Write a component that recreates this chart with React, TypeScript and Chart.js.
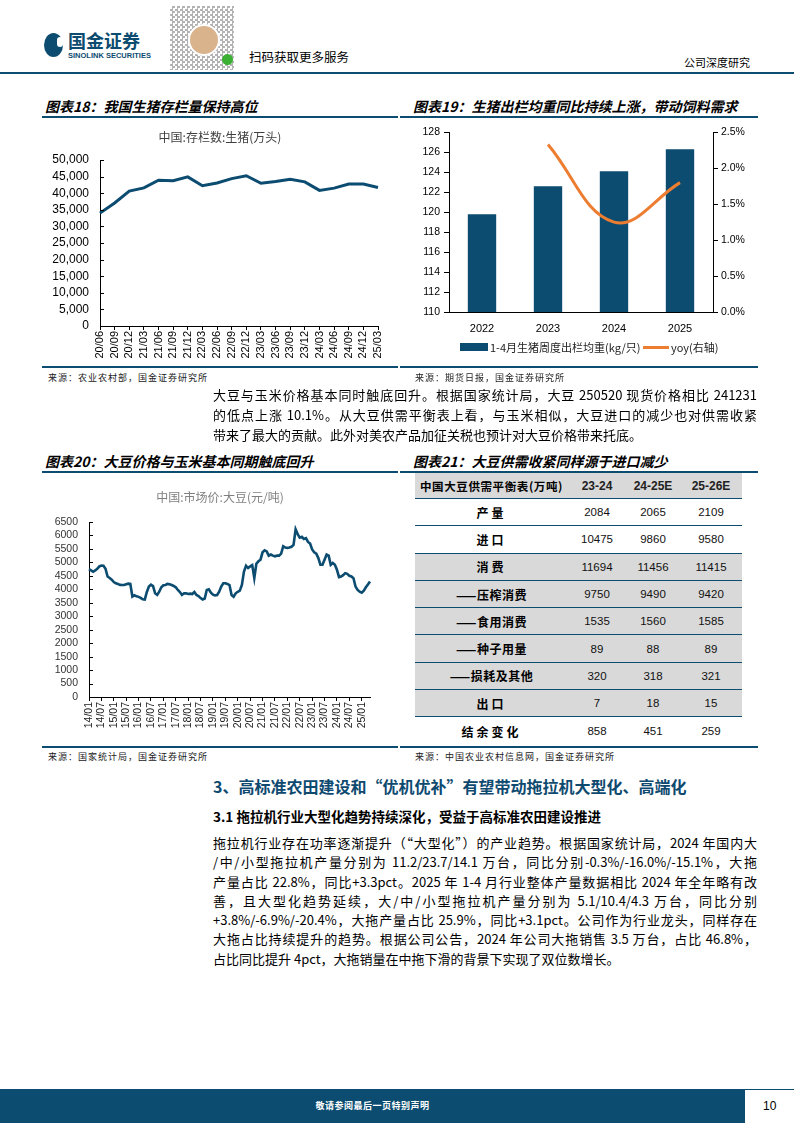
import React, { useEffect, useRef } from 'react';
import { Chart, registerables } from 'chart.js';

Chart.register(...registerables);

const TEAL = '#0B4C70';
const ORANGE = '#ED7D31';
const SANS = "'Liberation Sans', Arial, sans-serif";
const CJK = "'Noto Sans CJK SC', 'Liberation Sans', sans-serif";

Chart.defaults.font.family = SANS;
Chart.defaults.color = '#000';

// ---------- 图表18 ----------
const pigLabels = ['20/06', '20/09', '20/12', '21/03', '21/06', '21/09', '21/12', '22/03', '22/06', '22/09',
  '22/12', '23/03', '23/06', '23/09', '23/12', '24/03', '24/06', '24/09', '24/12', '25/03'];
const pigStock = [33996, 37039, 40650, 41595, 43911, 43764, 44922, 42253, 43057, 44394,
  45256, 42994, 43517, 44229, 43422, 40850, 41533, 42741, 42743, 41731];

// ---------- 图表19 ----------
const weightYears = ['2022', '2023', '2024', '2025'];
const pigWeight = [119.8, 122.6, 124.1, 126.3];
const weightYoy = [null, 0.0233, 0.0125, 0.018];

// ---------- 图表20 ----------
const soyStartYear = 2014;
const soyTickLabels = ['14/01', '14/07', '15/01', '15/07', '16/01', '16/07', '17/01', '17/07', '18/01', '18/07',
  '19/01', '19/07', '20/01', '20/07', '21/01', '21/07', '22/01', '22/07', '23/01', '23/07', '24/01', '24/07', '25/01'];
const soyPrice = [
  4750, 4700, 4650, 4700, 4760, 4850, 4880, 4875, 4760, 4475, 4420, 4360,
  4270, 4225, 4200, 4165, 4160, 4160, 4185, 4210, 4200, 3730, 3780, 3740,
  3720, 3680, 3630, 3620, 3900, 4100, 4170, 4120, 3850, 3790, 3910, 4075,
  4150, 4160, 4200, 4190, 4160, 4125, 4075, 3975, 3900, 3790, 3850, 3850,
  3825, 3840, 3825, 3900, 3790, 3750, 3675, 3625, 3660, 3975, 4000, 3875,
  3800, 3775, 3790, 3910, 4100, 4225, 4225, 4200, 4160, 3790, 3725, 3850,
  3910, 3950, 4160, 4660, 4875, 4790, 4850, 4900, 4420, 4950, 5040, 5100,
  5375, 5450, 5410, 5250, 5290, 5250, 5225, 5250, 5250, 5325, 5600, 5550,
  5540, 5550, 5580, 5650, 6230, 6050, 5920, 5950, 5870, 5900, 5760, 5700,
  5480, 5375, 5325, 5160, 4910, 4910, 5100, 5290, 5250, 4910, 4975, 4910,
  4725, 4450, 4475, 4525, 4600, 4575, 4500, 4475, 4410, 4100, 3975, 3910,
  3875, 3950, 4075, 4180, 4290
];
const soyMonths = soyPrice.map((_, i) => {
  const y = soyStartYear + Math.floor(i / 12);
  const m = (i % 12) + 1;
  return `${String(y).slice(2)}/${String(m).padStart(2, '0')}`;
});

// ---------- 图表21 ----------
const tableHead = '中国大豆供需平衡表(万吨)';
const tableCols = ['23-24', '24-25E', '25-26E'];
const tableRows = ['产量', '进口', '消费', '——压榨消费', '——食用消费', '——种子用量', '——损耗及其他', '出口', '结余变化'];
const tableValues = [
  [2084, 2065, 2109],
  [10475, 9860, 9580],
  [11694, 11456, 11415],
  [9750, 9490, 9420],
  [1535, 1560, 1585],
  [89, 88, 89],
  [320, 318, 321],
  [7, 18, 15],
  [858, 451, 259],
];
const tableGray = [false, false, true, true, true, true, true, true, false];

// ---------- plugins ----------
const subtitlePlugin = (text: string, y: number, color: string) => ({
  id: 'subtitle',
  afterDraw(chart: any) {
    const ctx = chart.ctx;
    ctx.save();
    ctx.font = `12px ${CJK}`;
    ctx.fillStyle = color;
    ctx.textAlign = 'center';
    ctx.textBaseline = 'middle';
    ctx.fillText(text, chart.width / 2, y);
    ctx.restore();
  },
});

const inwardYTicks = {
  id: 'inwardY',
  afterDraw(chart: any) {
    const s = chart.scales.y;
    const ctx = chart.ctx;
    ctx.save();
    ctx.strokeStyle = '#000';
    ctx.lineWidth = 1;
    s.ticks.forEach((t: any) => {
      const y = Math.round(s.getPixelForValue(t.value)) + 0.5;
      ctx.beginPath();
      ctx.moveTo(s.right, y);
      ctx.lineTo(s.right + 4, y);
      ctx.stroke();
    });
    ctx.restore();
  },
};

function ChartBox({ make, left, top, width, height }: any) {
  const ref = useRef<HTMLCanvasElement>(null);
  useEffect(() => {
    const chart = new Chart(ref.current as HTMLCanvasElement, make());
    return () => chart.destroy();
  }, []);
  return (
    <canvas
      ref={ref}
      width={width}
      height={height}
      style={{ position: 'absolute', left, top, width, height }}
    />
  );
}

const pigConfig = (): any => ({
  type: 'line',
  data: {
    labels: pigLabels,
    datasets: [{ data: pigStock, borderColor: TEAL, borderWidth: 3, pointRadius: 0, tension: 0, fill: false }],
  },
  options: {
    animation: false,
    responsive: false,
    devicePixelRatio: 1,
    layout: { padding: { top: 38, right: 20, left: 0, bottom: 0 } },
    plugins: { legend: { display: false }, tooltip: { enabled: false } },
    scales: {
      x: {
        offset: false,
        grid: { display: true, drawOnChartArea: false, tickLength: 4, color: '#000' },
        border: { display: true, color: '#000', width: 1 },
        ticks: { autoSkip: false, maxRotation: 90, minRotation: 90, color: '#000', font: { size: 11 }, padding: 1 },
        afterFit: (s: any) => { s.height = 36; },
      },
      y: {
        min: 0, max: 50000,
        grid: { display: false },
        border: { display: true, color: '#000', width: 1 },
        ticks: { stepSize: 5000, autoSkip: false, maxTicksLimit: 30, color: '#000', font: { size: 12 }, padding: 3, callback: (v: any) => Number(v).toLocaleString('en-US') },
        afterFit: (s: any) => { s.width = 58; },
      },
    },
  },
  plugins: [subtitlePlugin('中国:存栏数:生猪(万头)', 15, '#404040'), inwardYTicks],
});

const weightConfig = (): any => ({
  type: 'bar',
  data: {
    labels: weightYears,
    datasets: [
      { type: 'line', label: 'yoy(右轴)', data: weightYoy, yAxisID: 'y1', borderColor: ORANGE, borderWidth: 3, pointRadius: 0, tension: 0.4, order: 0 },
      { type: 'bar', label: '1-4月生猪周度出栏均重(kg/只)', data: pigWeight, yAxisID: 'y', backgroundColor: TEAL, barPercentage: 0.43, categoryPercentage: 1, order: 1 },
    ],
  },
  options: {
    animation: false,
    responsive: false,
    devicePixelRatio: 1,
    layout: { padding: { top: 10, right: 0, left: 0, bottom: 0 } },
    plugins: { legend: { display: false }, tooltip: { enabled: false } },
    scales: {
      x: {
        grid: { display: false },
        border: { display: true, color: '#000', width: 1 },
        ticks: { color: '#000', font: { size: 11 }, padding: 2 },
        afterFit: (s: any) => { s.height = 30; },
      },
      y: {
        position: 'left', min: 110, max: 128,
        grid: { display: true, drawOnChartArea: false, tickLength: 5, color: '#000' },
        border: { display: true, color: '#000', width: 1 },
        ticks: { stepSize: 2, autoSkip: false, maxTicksLimit: 30, color: '#000', font: { size: 10.5 }, padding: 4 },
        afterFit: (s: any) => { s.width = 49; },
      },
      y1: {
        position: 'right', min: 0, max: 0.025,
        grid: { display: true, drawOnChartArea: false, tickLength: 5, color: '#000' },
        border: { display: true, color: '#000', width: 1 },
        ticks: { stepSize: 0.005, autoSkip: false, maxTicksLimit: 30, color: '#000', font: { size: 10.5 }, padding: 3, callback: (v: any) => (Number(v) * 100).toFixed(1) + '%' },
        afterFit: (s: any) => { s.width = 45; },
      },
    },
  },
});

const soyConfig = (): any => ({
  type: 'line',
  data: {
    labels: soyMonths,
    datasets: [{ data: soyPrice, borderColor: TEAL, borderWidth: 2.6, pointRadius: 0, tension: 0, fill: false }],
  },
  options: {
    animation: false,
    responsive: false,
    devicePixelRatio: 1,
    layout: { padding: { top: 42, right: 28, left: 0, bottom: 0 } },
    plugins: { legend: { display: false }, tooltip: { enabled: false } },
    scales: {
      x: {
        offset: false,
        grid: { display: true, drawOnChartArea: false, tickLength: 4, color: '#000' },
        border: { display: true, color: '#000', width: 1 },
        ticks: { autoSkip: false, maxRotation: 90, minRotation: 90, color: '#222', font: { size: 10.5 }, padding: 1 },
        afterBuildTicks: (s: any) => {
          s.ticks = s.ticks.filter((t: any) => soyTickLabels.includes(soyMonths[t.value]));
        },
        afterFit: (s: any) => { s.height = 38; },
      },
      y: {
        min: 0, max: 6500,
        grid: { display: false },
        border: { display: true, color: '#000', width: 1 },
        ticks: { stepSize: 500, autoSkip: false, maxTicksLimit: 30, color: '#333', font: { size: 10.5 }, padding: 3, callback: (v: any) => String(v) },
        afterFit: (s: any) => { s.width = 47; },
      },
    },
  },
  plugins: [subtitlePlugin('中国:市场价:大豆(元/吨)', 17, '#7f7f7f'), inwardYTicks],
});

// ---------- page pieces ----------
const abs = (left: number, top: number, extra: any = {}) => ({ position: 'absolute' as const, left, top, ...extra });

function Title({ left, top, text }: any) {
  return (
    <div style={abs(left, top, { fontFamily: CJK, fontSize: 14, fontWeight: 700, fontStyle: 'italic', lineHeight: '20px', whiteSpace: 'nowrap', color: '#000' })}>
      {text}
    </div>
  );
}

function HLine({ left, top, width, h = 2 }: any) {
  return <div style={abs(left, top, { width, height: h, background: TEAL })} />;
}

function Source({ left, top, text }: any) {
  return (
    <div style={abs(left, top, { fontFamily: CJK, fontSize: 9, letterSpacing: 1, lineHeight: '14px', whiteSpace: 'nowrap', color: '#222' })}>
      {text}
    </div>
  );
}

function Para({ left, top, width, lines, lh }: any) {
  return (
    <div style={abs(left, top, { width, fontFamily: CJK, fontSize: 13, lineHeight: `${lh}px`, color: '#000' })}>
      {lines.map((l: string, i: number) => (
        <div key={i} style={{ textAlign: 'justify', textAlignLast: i === lines.length - 1 ? 'left' : 'justify', whiteSpace: 'normal' }}>
          {l}
        </div>
      ))}
    </div>
  );
}

const para1 = [
  '大豆与玉米价格基本同时触底回升。根据国家统计局，大豆 250520 现货价格相比 241231',
  '的低点上涨 10.1%。从大豆供需平衡表上看，与玉米相似，大豆进口的减少也对供需收紧',
  '带来了最大的贡献。此外对美农产品加征关税也预计对大豆价格带来托底。',
];

const para2 = [
  '拖拉机行业存在功率逐渐提升（“大型化”）的产业趋势。根据国家统计局，2024 年国内大',
  '/中/小型拖拉机产量分别为 11.2/23.7/14.1 万台，同比分别-0.3%/-16.0%/-15.1%，大拖',
  '产量占比 22.8%，同比+3.3pct。2025 年 1-4 月行业整体产量数据相比 2024 年全年略有改',
  '善，且大型化趋势延续，大/中/小型拖拉机产量分别为 5.1/10.4/4.3 万台，同比分别',
  '+3.8%/-6.9%/-20.4%，大拖产量占比 25.9%，同比+3.1pct。公司作为行业龙头，同样存在',
  '大拖占比持续提升的趋势。根据公司公告，2024 年公司大拖销售 3.5 万台，占比 46.8%，',
  '占比同比提升 4pct，大拖销量在中拖下滑的背景下实现了双位数增长。',
];

function SoyTable() {
  const colW = [153, 58, 54, 62];
  const top = 473;
  const headH = 26;
  const rowH = 27.3;
  const cell = (w: number, content: any, style: any = {}) => (
    <div style={{ width: w, textAlign: 'center', ...style }}>{content}</div>
  );
  return (
    <div style={abs(415, top, { width: 327 })}>
      <div style={{ display: 'flex', alignItems: 'center', height: headH - 1, background: '#d9d9d9', borderBottom: `1px solid ${TEAL}` }}>
        {cell(colW[0], tableHead, { fontFamily: CJK, fontSize: 11.5, fontWeight: 600, letterSpacing: 0.6 })}
        {tableCols.map((c, i) => cell(colW[i + 1], c, { fontFamily: SANS, fontSize: 12, fontWeight: 700, color: '#222' }))}
      </div>
      {tableRows.map((r, ri) => (
        <div key={r} style={{
          display: 'flex', alignItems: 'center', height: ri === tableRows.length - 1 ? rowH : rowH - 1,
          background: tableGray[ri] ? '#d9d9d9' : '#fff',
          borderBottom: ri === tableRows.length - 1 ? 'none' : `1px solid ${TEAL}`,
        }}>
          {cell(colW[0], r, { fontFamily: CJK, fontSize: 12, fontWeight: 600, letterSpacing: r.startsWith('——') ? 0.5 : 3 })}
          {tableValues[ri].map((v, ci) => cell(colW[ci + 1], String(v), { fontFamily: SANS, fontSize: 11.5, color: '#111' }))}
        </div>
      ))}
    </div>
  );
}

function Header() {
  return (
    <>
      {/* logo */}
      <div style={abs(44, 33, { width: 19, height: 24, borderRadius: '50%', background: TEAL })} />
      <div style={abs(57, 37, { width: 6, height: 10, borderRadius: 3, background: '#fff' })} />
      <div style={abs(68, 29, { fontFamily: CJK, fontSize: 18, fontWeight: 700, color: TEAL, lineHeight: '22px', whiteSpace: 'nowrap' })}>国金证券</div>
      <div style={abs(68, 51, { fontFamily: SANS, fontSize: 7.5, fontWeight: 700, color: TEAL, lineHeight: '9px', whiteSpace: 'nowrap' })}>SINOLINK SECURITIES</div>
      {/* QR block */}
      <div style={abs(170, 6, {
        width: 64, height: 64,
        background: 'repeating-conic-gradient(#555 0% 25%, #fff 0% 50%) 0 0 / 5px 5px',
        opacity: 0.45,
      })} />
      <div style={abs(188, 24, { width: 28, height: 28, borderRadius: '50%', background: '#d9b38c', border: '2px solid #fff' })} />
      <div style={abs(222, 54, { width: 11, height: 11, borderRadius: '50%', background: '#3cb034' })} />
      <div style={abs(249, 48, { fontFamily: CJK, fontSize: 12.5, color: '#000', lineHeight: '18px', whiteSpace: 'nowrap' })}>扫码获取更多服务</div>
      <div style={abs(684, 54, { fontFamily: CJK, fontSize: 11, color: '#000', lineHeight: '16px', whiteSpace: 'nowrap' })}>公司深度研究</div>
      <div style={abs(0, 72, { width: 794, height: 2, background: TEAL })} />
    </>
  );
}

function Footer() {
  return (
    <>
      <div style={abs(0, 1089, { width: 745, height: 34, background: TEAL })} />
      <div style={abs(745, 1089, { width: 49, height: 1, background: TEAL })} />
      <div style={abs(0, 1098, { width: 745, textAlign: 'center', fontFamily: CJK, fontSize: 9, fontWeight: 700, color: '#fff', lineHeight: '16px', letterSpacing: 0.5 })}>
        敬请参阅最后一页特别声明
      </div>
      <div style={abs(763, 1097, { fontFamily: SANS, fontSize: 12, color: '#000', lineHeight: '18px' })}>10</div>
    </>
  );
}

export default function App() {
  return (
    <div style={abs(0, 0, { width: 794, height: 1123, background: '#fff', overflow: 'hidden' })}>
      <Header />

      {/* 图表18 / 19 */}
      <Title left={45} top={96} text="图表18：我国生猪存栏量保持高位" />
      <HLine left={42} top={116} width={356} />
      <Title left={413} top={96} text="图表19：生猪出栏均重同比持续上涨，带动饲料需求" />
      <HLine left={400} top={116} width={358} />

      <ChartBox make={pigConfig} left={42} top={122} width={356} height={240} />
      <ChartBox make={weightConfig} left={400} top={122} width={358} height={220} />

      {/* legend for 图表19 */}
      <div style={abs(460, 343, { width: 28, height: 8, background: TEAL })} />
      <div style={abs(490, 339, { fontFamily: CJK, fontSize: 11, color: '#222', lineHeight: '16px', whiteSpace: 'nowrap' })}>1-4月生猪周度出栏均重(kg/只)</div>
      <div style={abs(643, 346, { width: 26, height: 3, background: ORANGE })} />
      <div style={abs(671, 339, { fontFamily: CJK, fontSize: 11, color: '#222', lineHeight: '16px', whiteSpace: 'nowrap' })}>yoy(右轴)</div>

      <HLine left={42} top={366} width={356} />
      <HLine left={400} top={366} width={358} />
      <Source left={48} top={371} text="来源：农业农村部，国金证券研究所" />
      <Source left={415} top={371} text="来源：期货日报，国金证券研究所" />

      <Para left={213} top={385} width={544} lh={20} lines={para1} />

      {/* 图表20 / 21 */}
      <Title left={45} top={451} text="图表20：大豆价格与玉米基本同期触底回升" />
      <HLine left={42} top={471} width={356} />
      <Title left={413} top={451} text="图表21：大豆供需收紧同样源于进口减少" />
      <HLine left={400} top={471} width={358} />

      <ChartBox make={soyConfig} left={42} top={480} width={356} height={255} />
      <SoyTable />

      <HLine left={42} top={746} width={356} />
      <HLine left={400} top={746} width={358} />
      <Source left={48} top={750} text="来源：国家统计局，国金证券研究所" />
      <Source left={415} top={750} text="来源：中国农业农村信息网，国金证券研究所" />

      {/* section */}
      <div style={abs(213, 773, { fontFamily: CJK, fontSize: 16, fontWeight: 700, color: '#0E4A70', lineHeight: '26px', whiteSpace: 'nowrap' })}>
        3、高标准农田建设和“优机优补”有望带动拖拉机大型化、高端化
      </div>
      <div style={abs(213, 806, { fontFamily: CJK, fontSize: 13.5, fontWeight: 700, color: '#000', lineHeight: '20px', whiteSpace: 'nowrap' })}>
        3.1 拖拉机行业大型化趋势持续深化，受益于高标准农田建设推进
      </div>
      <Para left={213} top={833} width={544} lh={19.3} lines={para2} />

      <Footer />
    </div>
  );
}
